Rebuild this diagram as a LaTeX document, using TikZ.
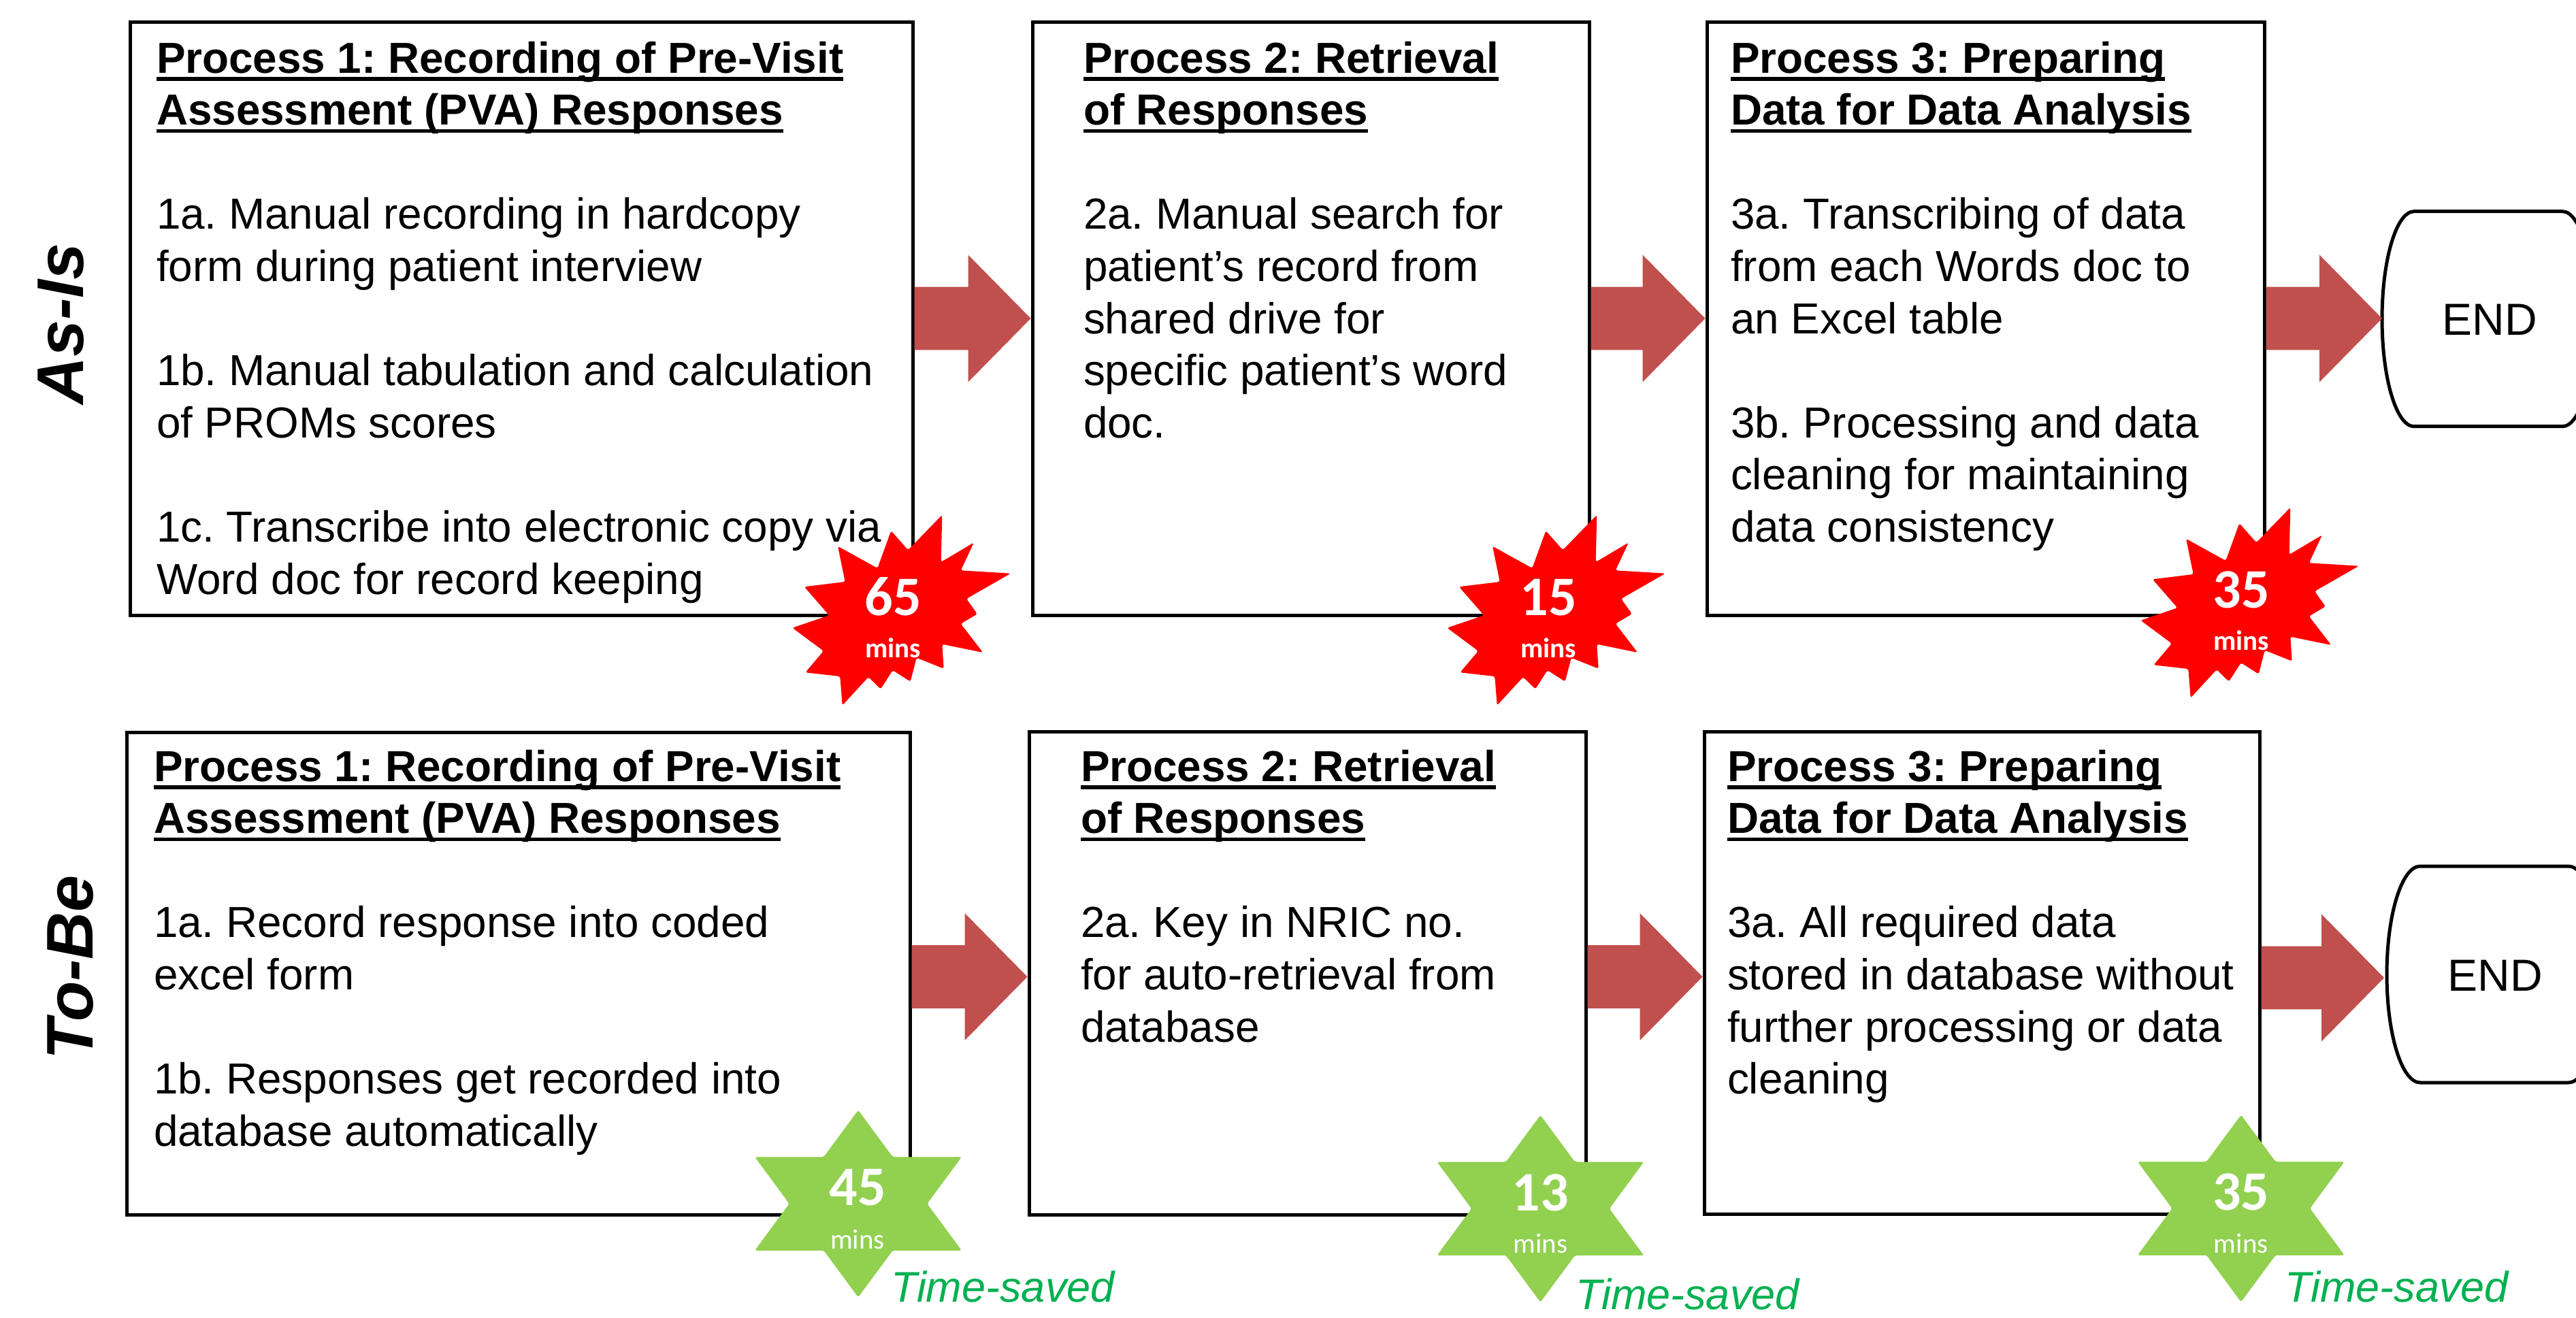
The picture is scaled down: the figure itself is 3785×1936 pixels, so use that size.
\documentclass[tikz,border=0pt]{standalone}
\usepackage{fontspec}
\setmainfont{Liberation Sans}
\newfontfamily\carl{Carlito}
\usetikzlibrary{calc,fit}
\frenchspacing
\definecolor{arrowred}{HTML}{C0504D}
\definecolor{burstred}{HTML}{FF0000}
\definecolor{stargreen}{HTML}{92D050}
\definecolor{tsgreen}{HTML}{00B050}
\newcommand\ulx[1]{\setbox0\hbox{\bfseries #1}\rlap{\rule[-2.35pt]{\wd0}{1.15pt}}\box0}
\newcommand\textlines[1]{\vtop{\frenchspacing\baselineskip=15.32pt\lineskiplimit=-1000pt\lineskip=0pt\halign{##\hfil\cr#1\crcr}}}
\newcommand\blockarrow[3][0pt]{%
  \fill[blk] let \p1=([yshift=#1]#2), \p2=(#3) in
  (\x1,\y1+9.26pt) -- (\x2-18.4pt,\y1+9.26pt) -- (\x2-18.4pt,\y1+18.7pt) -- (\x2,\y1)
  -- (\x2-18.4pt,\y1-18.7pt) -- (\x2-18.4pt,\y1-9.26pt) -- (\x1,\y1-9.26pt) -- cycle;}
\newcommand\redburst{%
  \fill[burstred, rounded corners=0.6pt] (1384.3,756.7) -- (1382.7,826) -- (1431,797.3) -- (1411.7,838.3)
  -- (1485,842.7) -- (1420,880) -- (1436,902.3) -- (1411.7,916.7) -- (1444.3,959)
  -- (1384.3,946.7) -- (1386.7,982.7) -- (1346.7,966.7) -- (1337.7,1001.7) -- (1311.7,985)
  -- (1294,1012.7) -- (1276,995) -- (1237.7,1036.7) -- (1234.3,994) -- (1183.3,988.3)
  -- (1210,956.7) -- (1164.3,922.7) -- (1218.3,904.3) -- (1181.7,862.3) -- (1241.7,855)
  -- (1231,802.7) -- (1289.3,835) -- (1309.3,780) -- (1334.3,808.3) -- cycle;}
\newcommand\greenstar{%
  \fill[stargreen, rounded corners=0.6pt] (0,-137.5) -- (50.7,-68.75) -- (152,-68.75) -- (101.3,0)
  -- (152,68.75) -- (50.7,68.75) -- (0,137.5) -- (-50.7,68.75) -- (-152,68.75)
  -- (-101.3,0) -- (-152,-68.75) -- (-50.7,-68.75) -- cycle;}
\begin{document}
\begin{tikzpicture}[x=0.2pt,y=-0.2pt,
  procbox/.style={draw=black, line width=1pt, inner sep=0pt},
  body/.style={anchor=base west, inner sep=0pt, font=\fontsize{12.76}{15.32}\selectfont},
  blk/.style={fill=arrowred},
  burstnum/.style={anchor=base, inner sep=0pt, text=white, font=\carl\bfseries\fontsize{16.4}{18}\selectfont},
  burstmins/.style={anchor=base, inner sep=0pt, text=white, font=\carl\bfseries\fontsize{8.2}{10}\selectfont},
  starmins/.style={anchor=base, inner sep=0pt, text=white, font=\carl\fontsize{8.2}{10}\selectfont},
  saved/.style={anchor=base west, inner sep=0pt, text=tsgreen, font=\itshape\fontsize{12.6}{15}\selectfont},
  rowlabel/.style={anchor=base, rotate=90, inner sep=0pt, font=\bfseries\itshape\fontsize{19.4}{23}\selectfont},
  endtext/.style={inner sep=0pt, font=\fontsize{13.2}{16}\selectfont},
  endshape/.style={draw=black, line width=1pt}
]
\useasboundingbox (0,0) rectangle (3785,1936);
\fill[white] (0,0) rectangle (3785,1936);
\clip (0,0) rectangle (3785,1936);

% row labels
\node[rowlabel] (asis) at (122,476) {As-Is};
\node[rowlabel] (tobe) at (136,1422) {To-Be};

% boxes
\node[procbox, fit={(191,32) (1341,904)}] (b1) {};
\node[procbox, fit={(1517,32) (2335,904)}] (b2) {};
\node[procbox, fit={(2508,32) (3327,904)}] (b3) {};
\node[procbox, fit={(186,1076) (1337,1785)}] (b4) {};
\node[procbox, fit={(1512,1075) (2330,1785)}] (b5) {};
\node[procbox, fit={(2504,1075) (3320,1784)}] (b6) {};

% END shapes
\draw[endshape] (3547,310.7) arc[start angle=-90, end angle=-270, x radius=47, y radius=158]
  -- (3765,626.7) arc[start angle=90, end angle=-90, x radius=47, y radius=158] -- cycle;
\coordinate (e1) at (3500,468.7);
\node[endtext] (end1) at (3658,470) {END};
\draw[endshape] (3556,1273) arc[start angle=-90, end angle=-270, x radius=49, y radius=159]
  -- (3774,1591) arc[start angle=90, end angle=-90, x radius=49, y radius=159] -- cycle;
\coordinate (e2) at (3503,1432);
\node[endtext] (end2) at (3666,1434) {END};

% texts
\node[body] (t1) at (229,107) {\textlines{%
\ulx{Process 1: Recording of Pre-Visit}\cr
\ulx{Assessment (PVA) Responses}\cr
\cr
1a. Manual recording in hardcopy\cr
form during patient interview\cr
\cr
1b. Manual tabulation and calculation\cr
of PROMs scores\cr
\cr
1c. Transcribe into electronic copy via\cr
Word doc for record keeping}};

\node[body] (t2) at (1591,107) {\textlines{%
\ulx{Process 2: Retrieval}\cr
\ulx{of Responses}\cr
\cr
2a. Manual search for\cr
patient’s record from\cr
shared drive for\cr
specific patient’s word\cr
doc.}};

\node[body] (t3) at (2542,107) {\textlines{%
\ulx{Process 3: Preparing}\cr
\ulx{Data for Data Analysis}\cr
\cr
3a. Transcribing of data\cr
from each Words doc to\cr
an Excel table\cr
\cr
3b. Processing and data\cr
cleaning for maintaining\cr
data consistency}};

\node[body] (t4) at (225,1148) {\textlines{%
\ulx{Process 1: Recording of Pre-Visit}\cr
\ulx{Assessment (PVA) Responses}\cr
\cr
1a. Record response into coded\cr
excel form\cr
\cr
1b. Responses get recorded into\cr
database automatically}};

\node[body] (t5) at (1587,1148) {\textlines{%
\ulx{Process 2: Retrieval}\cr
\ulx{of Responses}\cr
\cr
2a. Key in NRIC no.\cr
for auto-retrieval from\cr
database}};

\node[body] (t6) at (2537,1148) {\textlines{%
\ulx{Process 3: Preparing}\cr
\ulx{Data for Data Analysis}\cr
\cr
3a. All required data\cr
stored in database without\cr
further processing or data\cr
cleaning}};

% block arrows
\blockarrow{b1.east}{b2.west}
\blockarrow{b2.east}{b3.west}
\blockarrow{b3.east}{e1}
\blockarrow[-1pt]{b4.east}{b5.west}
\blockarrow[-1.1pt]{b5.east}{b6.west}
\blockarrow[-1.5pt]{b6.east}{e2}

% red bursts
\redburst
\node[burstnum] (n1) at (1312,904) {65};
\node[burstmins] (m1) at (1312,966.7) {mins};
\begin{scope}[shift={(962,0)}]
\redburst
\end{scope}
\node[burstnum] (n2) at (2275,904) {15};
\node[burstmins] (m2) at (2275,966.7) {mins};
\begin{scope}[shift={(1981,-11)}]
\redburst
\end{scope}
\node[burstnum] (n3) at (3293,893) {35};
\node[burstmins] (m3) at (3293,955.5) {mins};

% green stars
\begin{scope}[shift={(1261,1769)}]
\greenstar
\end{scope}
\node[burstnum] (g1) at (1260,1771.7) {45};
\node[starmins] (gm1) at (1260,1835) {mins};
\begin{scope}[shift={(2263.4,1776.3)}]
\greenstar
\end{scope}
\node[burstnum] (g2) at (2263.4,1779.3) {13};
\node[starmins] (gm2) at (2263.4,1841.7) {mins};
\begin{scope}[shift={(3292.8,1776)}]
\greenstar
\end{scope}
\node[burstnum] (g3) at (3292.8,1778.8) {35};
\node[starmins] (gm3) at (3292.8,1841) {mins};

% time saved labels
\node[saved] (s1) at (1308,1913) {Time-saved};
\node[saved] (s2) at (2314,1924) {Time-saved};
\node[saved] (s3) at (3356,1913) {Time-saved};
\end{tikzpicture}
\end{document}
